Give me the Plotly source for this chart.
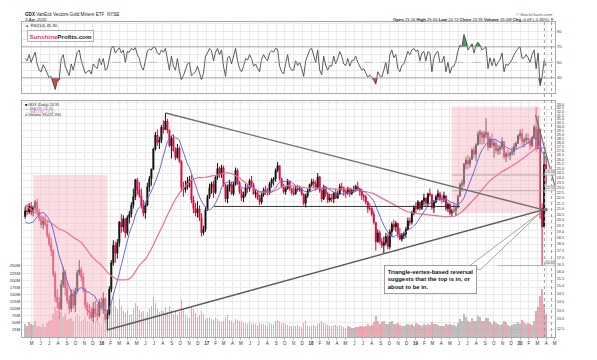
import numpy as np
import pandas as pd
import plotly.graph_objects as go

# ---------------- data (weekly sampling of the daily chart) ----------------
first_week = "2015-04-08"
first_open = 20.3

high_2015 = [21.2,21.4,21.5,21.6, 21.3,21.8,21.9,21.0, 20.4,20.3,20.4,19.9,18.9, 18.5,17.6,16.0,14.8,
             14.3,15.4,16.3,16.1,15.3, 14.4,14.8,14.8,14.9, 16.1,16.8,16.3,15.9, 14.9,14.0,13.9,13.7,14.0,
             14.1,13.9,14.2,14.3]
low_2015 = [20.1,20.4,20.5,20.4, 20.3,20.8,20.5,19.9, 19.3,19.2,19.4,18.5,17.8, 17.1,15.6,14.0,13.6,
            13.0,13.5,14.9,14.4,13.9, 13.3,13.4,13.6,13.4, 14.6,15.7,15.3,14.6, 13.6,13.2,13.0,12.9,12.8,
            13.1,12.9,13.1,13.5]
close_2015 = [20.8,20.7,21.2,20.7, 21.1,21.6,20.7,20.1, 19.6,19.9,19.6,18.7,18.0, 17.5,15.8,14.3,14.0,
              13.6,15.1,15.9,14.9,14.1, 13.6,14.5,13.8,14.7, 15.9,16.1,15.6,14.8, 13.8,13.5,13.4,13.1,13.6,
              13.3,13.2,14.0,13.7]

high_2016 = [14.6,14.3,13.5,15.0, 16.8,18.3,18.2,18.4,19.9, 20.5,20.4,20.1,20.4, 20.8,21.6,22.9,23.9,
             24.0,23.6,22.9,21.8,21.5, 23.5,24.2,25.0,27.3, 29.3,29.6,28.7,30.2, 30.8,31.8,31.0,29.6,28.8,
             29.0,27.4,27.8,27.5, 25.9,23.6,23.7,24.1,24.2, 24.3,22.2,21.5,21.7, 21.3,20.6,19.5,21.2]
low_2016 = [13.3,12.8,12.4,13.2, 14.6,16.4,16.6,16.9,17.8, 18.9,19.0,18.5,18.7, 19.7,20.2,21.0,21.8,
            22.3,22.0,21.0,20.3,20.1, 21.2,22.6,23.2,24.8, 27.0,27.6,27.2,27.9, 29.1,29.8,29.1,27.4,26.1,
            26.9,25.9,26.1,25.6, 22.6,22.1,22.5,22.8,23.0, 21.5,20.6,20.3,20.2, 19.9,18.6,18.7,19.0]
close_2016 = [14.2,13.0,13.3,14.8, 16.6,17.9,17.3,18.1,19.8, 19.4,20.1,18.9,20.2, 20.5,21.3,22.1,23.8,
              22.8,22.2,21.3,20.6,21.3, 23.1,23.9,24.9,27.2, 28.9,28.0,28.3,29.9, 29.6,30.7,29.5,27.6,28.5,
              27.0,26.2,27.3,25.8, 23.0,22.8,23.1,23.6,23.8, 21.8,21.0,20.6,21.0, 20.2,18.9,19.2,20.9]

high_2017 = [22.3,23.4,23.6,23.7,24.3, 25.6,25.2,25.4,25.3, 23.4,23.3,23.8,23.6, 23.6,25.1,25.0,23.7,
             22.9,22.6,23.4,23.3,23.9, 24.2,23.5,22.8,22.7, 22.3,22.5,23.0,23.2,23.0, 23.6,24.0,24.1,25.0,
             25.7,25.2,24.0,23.4, 23.1,23.9,23.7,23.0,23.1, 23.2,23.3,23.2,23.0, 22.4,22.4,22.9,23.4]
low_2017 = [20.8,21.9,22.4,22.0,22.4, 23.8,24.0,24.0,23.1, 21.6,21.5,22.6,22.3, 22.2,23.2,23.3,22.4,
            21.7,21.6,22.1,22.5,22.6, 23.0,22.3,22.0,21.8, 21.3,21.4,22.1,22.3,22.2, 22.3,23.0,23.2,23.6,
            24.6,23.7,23.0,22.4, 22.3,22.8,22.7,22.3,22.2, 22.3,22.6,22.6,22.2, 21.3,21.1,22.0,22.6]
close_2017 = [22.1,23.0,23.4,22.5,24.1, 25.0,24.3,25.1,23.3, 21.9,23.1,23.4,22.4, 23.3,24.8,23.5,22.6,
              22.0,22.3,23.0,22.9,23.7, 23.3,22.4,22.5,22.0, 21.6,22.3,22.8,22.6,22.5, 23.4,23.8,23.9,24.8,
              25.3,23.9,23.1,22.6, 22.9,23.6,22.9,22.5,22.4, 22.9,22.8,22.9,22.4, 21.5,22.2,22.7,23.3]

high_2018 = [23.9,23.9,23.7,24.5,24.2, 22.8,23.3,23.1,22.6, 22.4,22.4,22.6,22.9, 22.7,23.4,23.5,23.1,22.8,
             23.1,23.0,22.9,23.2, 23.3,23.6,23.0,22.9, 22.4,22.3,21.7,21.5,21.2, 20.8,19.8,19.2,19.1,
             18.5,18.6,18.9,18.8, 19.2,19.8,20.0,19.9,19.7, 19.3,18.9,19.0,19.4, 20.2,20.2,20.8,21.3,21.6]
low_2018 = [23.1,23.0,22.7,22.9,22.5, 21.6,21.8,22.1,21.5, 21.6,21.6,21.5,21.9, 21.9,22.3,22.7,22.2,22.0,
            22.3,22.1,22.3,22.5, 22.6,22.7,22.2,21.8, 21.7,21.4,20.6,20.8,20.3, 19.6,17.5,18.1,18.0,
            17.7,17.3,17.9,17.6, 17.6,18.6,19.1,19.0,18.5, 18.3,18.2,18.4,18.5, 19.1,19.5,19.6,20.4,20.6]
close_2018 = [23.6,23.4,23.0,24.1,22.7, 21.9,23.1,22.4,21.8, 22.0,21.9,22.5,22.0, 22.4,23.1,23.0,22.6,22.5,
              22.9,22.4,22.7,22.8, 23.1,22.9,22.6,22.2, 22.1,21.6,21.0,21.0,20.5, 19.8,18.2,18.9,18.2,
              17.9,18.1,18.6,17.8, 19.0,19.6,19.4,19.7,18.8, 18.4,18.7,18.8,19.2, 19.9,19.8,20.6,21.1,21.0]

high_2019 = [21.8,21.6,21.8,22.4, 22.0,22.5,22.9,22.4, 21.8,22.3,22.8,22.6, 22.3,22.6,22.0,21.6,21.5,
             21.0,21.5,21.3,22.3, 23.5,23.8,25.6,26.3, 26.5,26.3,27.3,27.5,27.9, 29.4,29.6,29.4,29.4,
             31.1,29.3,28.7,29.1,28.3, 28.2,27.7,27.7,28.6, 28.1,26.9,27.1,26.9, 27.4,27.9,28.1,29.0,29.6]
low_2019 = [20.9,20.8,20.9,21.3, 21.2,21.2,22.1,20.9, 20.6,21.5,21.8,21.7, 21.5,21.6,20.8,20.7,20.4,
            20.3,20.6,20.4,21.0, 22.1,22.6,23.1,24.9, 24.9,25.1,25.9,26.2,25.8, 27.6,27.8,27.7,27.8,
            28.5,27.0,27.3,27.3,26.2, 26.7,26.5,26.6,27.1, 26.0,25.7,26.2,25.9, 26.4,26.5,27.2,27.8,28.4]
close_2019 = [21.6,21.0,21.7,22.0, 21.5,22.4,22.3,21.1, 21.6,22.1,22.4,21.9, 21.9,22.2,21.0,21.4,20.6,
              20.8,20.8,21.1,22.2, 23.3,23.4,25.5,25.9, 25.5,26.0,27.1,26.6,27.7, 29.0,29.2,28.6,29.0,
              29.2,27.4,28.4,27.6,27.9, 27.0,27.2,27.4,28.1, 26.3,26.6,26.5,26.7, 26.9,27.5,27.9,28.8,29.1]

high_2020 = [29.7,28.6,29.1,29.1, 28.5,28.8,30.2,32.6, 31.4,29.7,21.5,26.9,26.4]
low_2020 = [27.6,27.4,27.9,27.8, 27.1,27.4,28.5,26.9, 27.4,20.1,16.4,19.8,23.3]
close_2020 = [28.1,28.3,28.5,28.3, 27.6,28.6,29.9,27.2, 29.6,21.0,19.4,25.4,24.95]

volume_m_2015 = [45,40,52,44, 42,55,38,40, 36,45,34,50,55, 60,82,105,90, 75,88,70,80,60, 62,68,58,72,
                 80,75,58,62, 70,58,55,50,64, 58,70,52,42]
volume_m_2016 = [70,85,100,82, 125,160,110,100,135, 110,92,85,95, 78,82,100,120, 110,95,88,92,72,
                 88,100,110,140, 120,100,88,96, 92,105,88,110,96, 82,92,78,88, 130,100,78,72,68,
                 110,100,86,72, 78,92,82,64]
volume_m_2017 = [68,72,64,60,66, 62,55,52,56, 72,78,60,55, 50,64,60,56, 55,50,48,46,52, 46,48,44,42,
                 50,46,44,42,40, 48,46,44,55, 60,55,50,48, 44,42,40,38,40, 38,42,37,35, 50,55,42,37]
volume_m_2018 = [40,42,37,46,50, 55,48,44,42, 39,37,42,41, 37,42,39,35,33, 37,35,33,32, 34,36,38,40,
                 36,38,45,40,42, 52,75,56,47, 52,56,47,45, 54,56,47,45,49, 42,40,38,41, 45,42,47,38,49]
volume_m_2019 = [47,42,40,45, 42,45,41,52, 47,45,42,40, 38,40,47,42,45, 43,41,40,49, 62,55,80,70,
                 57,52,66,55,58, 75,70,57,55, 66,68,52,47,55, 49,45,42,47, 58,52,42,40, 42,45,47,52,45]
volume_m_2020 = [60,52,47,49, 45,42,55,90, 105,145,170,115,80]

rsi_2015 = [55,52,60,50, 57,63,48,40, 38,47,42,35,30, 32,22,15,25, 28,55,60,45,38, 33,48,40,52,
            63,66,52,44, 36,38,40,35,48, 44,42,55,47]
rsi_2016 = [55,40,42,58, 68,71,62,66,69, 62,66,50,64, 63,68,66,69, 60,55,44,40,52, 65,67,66,70,
            69,62,60,66, 63,68,55,40,58, 45,40,55,38, 28,33,42,48,50, 33,35,38,45, 36,28,36,58]
rsi_2017 = [62,68,65,52,63, 68,60,66,45, 32,56,58,48, 60,68,52,42, 38,45,55,53,60, 55,45,48,42,
            38,54,60,55,52, 62,65,63,68, 67,45,38,35, 48,60,44,40,40, 52,46,50,42, 32,52,60,66]
rsi_2018 = [68,60,50,66,40, 34,58,46,40, 46,45,58,48, 55,64,58,48,46, 55,45,52,53, 58,50,44,40,
            42,36,31,34,31, 27,22,38,33, 31,40,50,35, 60,66,56,60,42, 38,46,48,56, 64,60,66,68,64]
rsi_2019 = [66,52,62,64, 52,64,62,38, 56,62,64,50, 50,58,38,50,36, 44,45,52,65, 72,70,86,78,
            66,70,74,62,72, 76,72,66,68, 70,42,56,46,55, 45,50,54,62, 38,48,46,50, 54,60,64,68,70]
rsi_2020 = [55,56,60,56, 50,60,66,42, 62,20,32,52,45.9]

# weekly closes before the visible window (for the moving averages)
pre_close = [25.9,26.3,26.8,26.5,25.9, 26.2,26.0,25.8,25.2, 24.6,23.2,22.3,21.5, 21.2,20.5,20.9,19.7,18.4,
             16.9,18.3,18.5,17.9, 19.2,19.4,18.9,18.4,18.5, 19.5,21.2,22.9,23.0, 22.0,21.3,20.5,20.3,
             19.3,18.3,17.6,18.9, 19.5]

month_letters = ["J", "F", "M", "A", "M", "J", "J", "A", "S", "O", "N", "D"]

# drawn annotations (date, price)
upper_line_dates = ["2016-08-11", "2020-04-06"]
upper_line_prices = [31.8, 20.8]
lower_line_dates = ["2016-01-19", "2020-04-06"]
lower_line_prices = [12.4, 21.0]
support_dates = ["2017-01-27", "2019-06-05"]
support_prices = [21.2, 21.2]
top_line_dates = ["2020-02-24", "2020-05-01"]
top_line_prices = [31.5, 23.2]
left_zone_dates = ["2015-05-06", "2016-01-20"]
left_zone_top = 24.3
right_zone_dates = ["2019-05-07", "2020-03-12"]
right_zone_prices = [20.6, 32.7]
level_prices = [24.3, 22.7, 16.4]
level_starts = ["2019-05-07", "2019-05-07", "2019-10-15"]
marker_dates = ["2020-03-26", "2020-04-20"]

# ---------------- assemble ----------------
high = high_2015 + high_2016 + high_2017 + high_2018 + high_2019 + high_2020
low = low_2015 + low_2016 + low_2017 + low_2018 + low_2019 + low_2020
close = close_2015 + close_2016 + close_2017 + close_2018 + close_2019 + close_2020
volume_m = volume_m_2015 + volume_m_2016 + volume_m_2017 + volume_m_2018 + volume_m_2019 + volume_m_2020
rsi = rsi_2015 + rsi_2016 + rsi_2017 + rsi_2018 + rsi_2019 + rsi_2020
n = len(close)
assert len(high) == n and len(low) == n and len(volume_m) == n and len(rsi) == n, \
    (len(high), len(low), n, len(volume_m), len(rsi))

dates = pd.date_range(first_week, periods=n, freq="W-WED")
opens = np.array([first_open] + close[:-1])
c = np.array(close)
h = np.maximum(np.maximum(np.array(high), opens), c)
l = np.minimum(np.minimum(np.array(low), opens), c)

hist = pd.Series(pre_close + close)
ma50 = hist.rolling(10).mean().iloc[-n:].values
ma200 = hist.rolling(40).mean().iloc[-n:].values

vol = np.array(volume_m) * 1e6
vcol = np.where(c < opens, "rgba(232,110,128,0.62)", "rgba(150,150,150,0.62)")

rsi_a = np.array(rsi, dtype=float)

FONT = "Liberation Sans, Arial, sans-serif"
L, R, T, B = 22, 42, 22, 23
W, H = 597, 360
PW, PH = W - L - R, H - T - B


def px(x):
    return (x - L) / PW


def py(y):
    return (H - B - y) / PH


main_top = py(101)
rsi_bot = py(93)
p_lo, p_hi = 12.03, 33.5
xrange_ = ["2015-03-28", "2020-05-02"]

fig = go.Figure()

# volume (base axis, drawn first)
fig.add_trace(go.Bar(x=dates, y=vol, marker=dict(color=vcol, line=dict(width=0)),
                     width=5.2 * 86400000, xaxis="x", yaxis="y", showlegend=False, hoverinfo="skip"))

# shaded zones on the price axis
zone_fill = "rgba(245,190,200,0.5)"
lz = pd.to_datetime(left_zone_dates)
fig.add_trace(go.Scatter(x=[lz[0], lz[1], lz[1], lz[0], lz[0]],
                         y=[p_lo, p_lo, left_zone_top, left_zone_top, p_lo], mode="lines",
                         line=dict(width=0), fill="toself", fillcolor=zone_fill,
                         xaxis="x", yaxis="y2", showlegend=False, hoverinfo="skip"))
rz = pd.to_datetime(right_zone_dates)
fig.add_trace(go.Scatter(x=[rz[0], rz[1], rz[1], rz[0], rz[0]],
                         y=[right_zone_prices[0], right_zone_prices[0], right_zone_prices[1],
                            right_zone_prices[1], right_zone_prices[0]], mode="lines",
                         line=dict(width=0), fill="toself", fillcolor=zone_fill,
                         xaxis="x", yaxis="y2", showlegend=False, hoverinfo="skip"))

# horizontal price levels
for lp, ls in zip(level_prices, level_starts):
    fig.add_trace(go.Scatter(x=pd.to_datetime([ls, xrange_[1]]), y=[lp, lp], mode="lines",
                             line=dict(color="#a0a0a0", width=0.8), xaxis="x", yaxis="y2",
                             showlegend=False, hoverinfo="skip"))

# candles
fig.add_trace(go.Candlestick(x=dates, open=opens, high=h, low=l, close=c, xaxis="x", yaxis="y2",
                             increasing=dict(line=dict(color="#111111", width=1), fillcolor="#111111"),
                             decreasing=dict(line=dict(color="#d0103a", width=1), fillcolor="#d0103a"),
                             whiskerwidth=0, showlegend=False))
# moving averages
fig.add_trace(go.Scatter(x=dates, y=ma200, mode="lines", line=dict(color="#f0708e", width=1.2),
                         xaxis="x", yaxis="y2", showlegend=False))
fig.add_trace(go.Scatter(x=dates, y=ma50, mode="lines", line=dict(color="#6a6ad8", width=1),
                         xaxis="x", yaxis="y2", showlegend=False))

# trend lines
for dd, pp, col, wd in [(upper_line_dates, upper_line_prices, "#707070", 1.4),
                        (lower_line_dates, lower_line_prices, "#5a5a5a", 1.4),
                        (support_dates, support_prices, "#333333", 1.0),
                        (top_line_dates, top_line_prices, "#707070", 1.2)]:
    fig.add_trace(go.Scatter(x=pd.to_datetime(dd), y=pp, mode="lines", line=dict(color=col, width=wd),
                             xaxis="x", yaxis="y2", showlegend=False, cliponaxis=True))

# RSI with fills
r30 = np.full(n, 30.0)
r70 = np.full(n, 70.0)
fig.add_trace(go.Scatter(x=dates, y=r30, mode="lines", line=dict(width=0), xaxis="x2", yaxis="y3",
                         showlegend=False, hoverinfo="skip"))
fig.add_trace(go.Scatter(x=dates, y=np.minimum(rsi_a, 30), mode="lines", line=dict(width=0),
                         fill="tonexty", fillcolor="rgba(200,40,50,0.85)", xaxis="x2", yaxis="y3",
                         showlegend=False, hoverinfo="skip"))
fig.add_trace(go.Scatter(x=dates, y=r70, mode="lines", line=dict(width=0), xaxis="x2", yaxis="y3",
                         showlegend=False, hoverinfo="skip"))
fig.add_trace(go.Scatter(x=dates, y=np.maximum(rsi_a, 70), mode="lines", line=dict(width=0),
                         fill="tonexty", fillcolor="rgba(40,140,60,0.85)", xaxis="x2", yaxis="y3",
                         showlegend=False, hoverinfo="skip"))
fig.add_trace(go.Scatter(x=dates, y=rsi_a, mode="lines", line=dict(color="#4a4a4a", width=0.9),
                         xaxis="x2", yaxis="y3", showlegend=False))

# ---------------- axes ----------------
month_starts = pd.date_range("2015-05-01", "2020-05-01", freq="MS")
month_text = [("<b>%02d</b>" % (d.year % 100)) if d.month == 1 else month_letters[d.month - 1]
              for d in month_starts]
price_ticks = np.arange(12.5, 33.01, 0.5)
vol_ticks = np.arange(25e6, 826e6, 25e6)
vol_text = ["%dM" % (v / 1e6) if v <= 250e6 else "" for v in vol_ticks]

grid = "#e9e9e9"
fig.update_layout(
    width=W, height=H, margin=dict(l=L, r=R, t=T, b=B, autoexpand=False),
    paper_bgcolor="white", plot_bgcolor="white",
    font=dict(family=FONT, size=5, color="#333"),
    showlegend=False, bargap=0,
    xaxis=dict(domain=[0, 1], anchor="y", type="date", range=xrange_, tickvals=month_starts,
               ticktext=month_text, tickfont=dict(size=4.5, color="#333"), showgrid=True, gridcolor=grid,
               gridwidth=1, zeroline=False, showline=True, linecolor="#aaaaaa", mirror=True,
               ticks="outside", ticklen=2, tickcolor="#bbbbbb", rangeslider=dict(visible=False),
               automargin=False),
    xaxis2=dict(domain=[0, 1], anchor="y3", matches="x", type="date", range=xrange_, tickvals=month_starts,
                showticklabels=False, showgrid=True, gridcolor=grid, zeroline=False, showline=True,
                linecolor="#aaaaaa", mirror=True, ticks="", rangeslider=dict(visible=False),
                automargin=False),
    yaxis=dict(domain=[0, main_top], range=[0, 830e6], tickvals=vol_ticks, ticktext=vol_text, side="left",
               showgrid=True, gridcolor=grid, zeroline=False, showline=True, linecolor="#aaaaaa",
               tickfont=dict(size=4.2, color="#333"), ticks="", automargin=False),
    yaxis2=dict(overlaying="y", anchor="x", side="right", type="log",
                range=[np.log10(p_lo), np.log10(p_hi)], tickvals=price_ticks,
                ticktext=["%.1f" % v for v in price_ticks], tickfont=dict(size=3.8, color="#333"),
                showgrid=False, zeroline=False, showline=True, linecolor="#aaaaaa", ticks="",
                automargin=False),
    yaxis3=dict(domain=[rsi_bot, 1], anchor="x2", side="right", range=[10.6, 102],
                tickvals=[10, 20, 30, 40, 50, 60, 70, 80, 90, 100],
                ticktext=["10", "", "30", "", "50", "", "70", "", "90", ""],
                tickfont=dict(size=4.2, color="#333"), showgrid=True, gridcolor=grid, zeroline=False,
                showline=True, linecolor="#aaaaaa", mirror=True, ticks="", automargin=False),
)

shapes = []
# RSI reference lines
for lv, dash, colr in [(70, "solid", "#9a9a9a"), (30, "solid", "#9a9a9a"), (50, "dash", "#b5b5b5")]:
    shapes.append(dict(type="line", xref="paper", yref="y3", x0=0, x1=1, y0=lv, y1=lv,
                       line=dict(color=colr, width=0.8, dash=dash)))
# dotted vertical markers
for md in marker_dates:
    shapes.append(dict(type="line", xref="x", yref="paper", x0=md, x1=md, y0=0, y1=1,
                       line=dict(color="#8a8a8a", width=0.8, dash="dot")))
# callout pointer
shapes.append(dict(type="path", xref="paper", yref="paper",
                   path="M %.4f %.4f L %.4f %.4f L %.4f %.4f Z" % (px(470), py(265.5), px(541), py(212),
                                                                    px(480), py(270)),
                   fillcolor="white", line=dict(color="#8a8a8a", width=0.8)))
fig.update_layout(shapes=shapes)

ann = []


def text(x, y, s, size=4.5, anchor="left", color="#222", **kw):
    ann.append(dict(x=px(x), y=py(y), xref="paper", yref="paper", text=s, showarrow=False,
                    xanchor=anchor, yanchor="middle", font=dict(size=size, color=color, family=FONT), **kw))


text(23, 14.5, "<b>GDX</b> VanEck Vectors Gold Miners ETF  NYSE", 4.6)
text(23, 19.5, "3-Apr-2020", 4.3)
text(23, 25.5, "<span style='color:#2a8a2a'>▲</span> RSI(14) 45.90", 4.3)
text(555, 14.5, "© StockCharts.com", 4.2, anchor="right", color="#555")
text(556, 19.5, "<b>Open</b> 25.16 <b>High</b> 25.66 <b>Low</b> 24.74 <b>Close</b> 24.95 "
     "<b>Volume</b> 33.0M <b>Chg</b> -0.09 (-0.36%) <span style='color:#d0103a'>▼</span>", 4.2,
     anchor="right")
text(27, 36.5, "<b><span style='color:#ee2d68'>Sunshine</span>Profits.com</b>", 6.2,
     bgcolor="white", bordercolor="#b0b0b0", borderwidth=1, borderpad=1.5)
text(23, 105.5, "<span style='color:#111'>■</span> GDX (Daily) 24.95", 3.8)
text(23, 108.8, "<span style='color:#6a6ad8'>— MA(50) 26.48</span>", 3.8)
text(23, 112.1, "<span style='color:#f0708e'>— MA(200) 27.32</span>", 3.8)
text(23, 115.4, "<span style='color:#999'>■</span> Volume 33,011,700", 3.8)

ann.append(dict(x=px(384), y=py(265), xref="paper", yref="paper", xanchor="left", yanchor="top",
                text="<b>Triangle-vertex-based reversal<br>suggests that the top is in, or<br>about to be in.</b>",
                align="left", showarrow=False, bgcolor="white", bordercolor="#8a8a8a", borderwidth=0.8,
                borderpad=3, font=dict(size=5.9, color="#111", family=FONT)))

for lp in level_prices:
    ann.append(dict(x=1.0, y=np.log10(lp), xref="paper", yref="y2", xanchor="right", yanchor="bottom",
                    text="%.2f" % lp, showarrow=False, bgcolor="#eeeeee", bordercolor="#bbbbbb",
                    borderwidth=0.5, borderpad=0.3, font=dict(size=3.4, color="#555", family=FONT)))

fig.update_layout(annotations=ann)

fig.write_html("out.html", include_plotlyjs=True, config=dict(displayModeBar=False),
               post_script="document.body.style.margin='0px';document.body.style.padding='0px';")
